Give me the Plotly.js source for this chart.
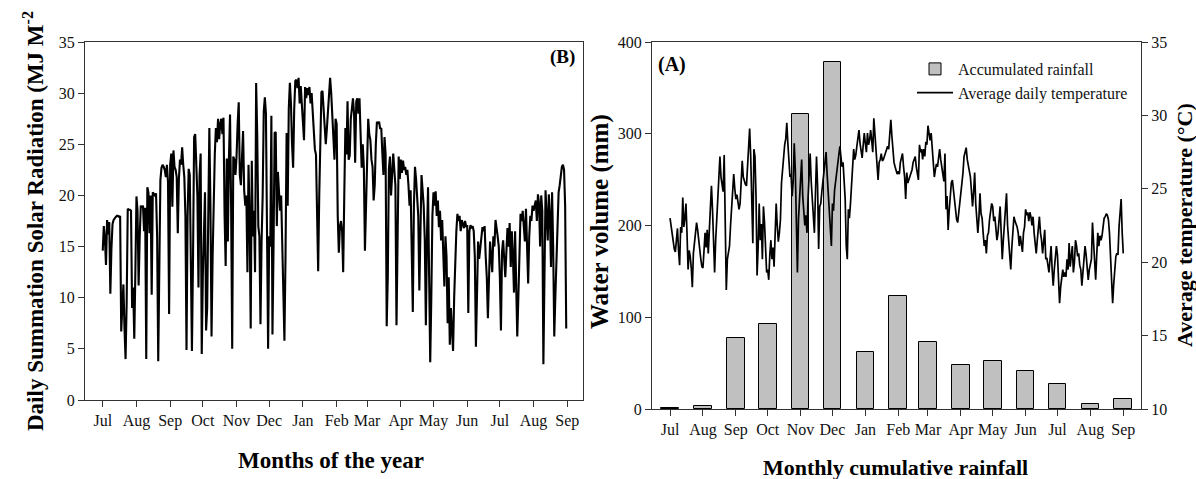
<!DOCTYPE html>
<html><head><meta charset="utf-8">
<script src="https://cdn.plot.ly/plotly-3.0.1.min.js"></script>
<style>html,body{margin:0;padding:0;background:#fff}#chart{width:1196px;height:479px}</style>
</head><body><div id="chart"></div>
<script>
// ---------- Panel B: daily summation solar radiation (MJ m-2), one value per day from 1 Jul ----------
const seriesStart = '2014-07-01';
const solarJul1 = [14.6,17.0,15.8,13.2,17.6,16.2,17.4,10.4,14.8,17.2,17.6,17.8,17.9,18.0,18.0,17.9,18.0,6.7,8.5,11.3,7.0,4.0,9.5,18.7,18.6,18.6,18.5,9.0,11.0,6.0,12.5];
const solarAug1 = [19.9,18.5,11.2,16.0,19.0,18.8,19.0,16.5,18.8,4.0,20.8,20.3,16.3,20.0,10.3,20.3,20.2,20.0,20.2,16.0,3.8,17.0,21.5,22.7,23.0,22.8,22.5,21.8,23.0,21.3,8.4];
const solarSep1 = [23.0,24.1,18.9,24.4,22.8,22.5,21.8,16.3,21.6,23.5,23.0,24.7,23.0,21.8,18.0,4.9,18.0,22.6,22.0,15.0,4.8,14.0,25.7,26.0,22.0,20.0,11.0,22.0,24.1,4.5];
const solarOct1 = [12.0,16.0,20.3,6.8,9.0,18.0,26.6,19.0,6.2,14.0,20.0,24.0,26.6,25.2,27.5,25.5,27.0,27.5,26.0,27.6,18.0,13.1,23.6,15.5,23.7,27.9,19.0,5.0,23.8,23.5,22.0];
const solarNov1 = [23.8,27.0,29.1,22.0,21.0,23.7,26.3,20.5,19.0,20.0,12.5,23.0,18.0,7.0,23.4,16.0,18.5,12.5,31.0,26.0,17.0,16.0,7.4,15.5,20.0,28.2,29.6,28.0,12.0,5.0];
const solarDec1 = [16.0,15.0,27.8,6.4,15.0,26.1,26.2,17.0,22.3,20.5,18.5,20.0,16.0,12.0,5.8,14.0,26.1,19.0,28.5,31.0,29.0,25.0,22.7,28.5,31.2,31.3,30.5,31.5,29.0,30.7,28.9];
const solarJan2 = [27.0,25.4,30.6,29.5,30.5,29.8,30.6,29.0,30.0,28.0,26.0,24.5,24.0,18.0,12.6,20.0,26.0,30.1,30.2,28.0,27.0,25.0,26.5,28.0,30.5,31.5,30.0,27.7,25.5,23.5,27.5];
const solarFeb2 = [27.0,18.0,14.4,17.0,17.5,16.5,12.5,20.0,26.6,24.0,29.2,23.5,23.9,27.5,29.0,29.5,28.0,23.2,29.2,29.5,28.0,29.5,26.0,22.7,25.0,22.7,14.6,20.0];
const solarMar2 = [24.0,27.5,26.0,25.4,23.5,22.8,19.5,21.0,25.0,27.2,27.0,27.2,26.5,26.6,24.1,22.0,25.7,24.0,7.2,12.0,22.6,23.8,20.0,22.0,24.1,22.5,21.0,7.3,15.0,23.8,21.6];
const solarApr2 = [23.5,22.2,23.4,22.5,22.8,22.0,22.5,21.0,19.0,20.5,15.0,8.6,19.0,22.8,21.6,19.8,18.0,10.7,18.0,22.0,20.5,19.0,15.6,7.3,16.0,20.8,12.0,3.7,10.0,18.0];
const solarMay2 = [20.3,19.0,20.4,18.0,19.5,16.9,18.5,15.6,17.6,14.0,11.1,16.0,14.0,7.5,12.0,5.4,9.0,6.8,4.8,10.0,14.0,16.5,18.2,17.5,18.0,16.5,17.6,17.3,16.8,17.5,17.0];
const solarJun2 = [17.0,8.5,16.5,17.1,16.8,17.0,16.5,14.0,5.2,13.0,15.5,13.8,15.0,16.0,16.9,16.5,17.0,14.0,12.0,8.0,12.0,15.5,14.0,12.5,16.0,15.0,17.6,17.0,16.0,15.0];
const solarJul2 = [12.0,6.8,14.5,15.6,13.0,12.0,14.5,16.8,15.0,17.3,13.0,16.5,14.0,10.5,16.5,12.5,6.2,10.0,15.0,18.2,17.5,18.5,17.0,15.5,18.7,14.0,11.4,16.0,18.0,17.5,19.0];
const solarAug2 = [18.5,19.2,19.5,17.5,20.1,19.2,15.0,20.0,18.5,3.5,12.0,20.5,18.0,15.6,20.1,18.0,13.0,20.3,15.0,6.2,10.1,14.0,19.0,20.3,21.0,22.1,22.8,23.0,22.5,19.0,7.0];

// ---------- Panel A: average daily temperature (°C), one value per day from 1 Jul ----------
const tempJul1 = [23.0,22.4,21.9,21.5,20.9,20.7,21.6,22.3,20.8,19.8,22.4,22.0,24.4,22.4,23.0,24.0,21.9,19.5,20.8,20.4,19.6,18.3,20.6,21.5,22.0,22.7,22.2,21.5,20.6,20.2,19.7];
const tempAug1 = [19.6,20.8,22.0,21.0,22.2,20.6,22.5,24.4,25.2,23.6,21.0,19.3,21.5,22.8,24.0,25.5,27.2,25.8,25.4,24.8,27.3,21.5,18.1,20.2,20.8,21.1,22.5,23.8,24.6,26.0,25.0];
const tempSep1 = [24.3,24.6,24.0,23.6,24.0,25.2,26.9,25.8,25.5,25.3,25.2,26.8,27.6,29.1,27.2,24.0,21.3,27.7,27.2,24.5,19.1,21.0,24.0,21.5,22.6,20.2,23.8,22.7,21.0,19.3];
const tempOct1 = [19.5,18.8,20.5,21.5,20.2,21.0,19.7,22.2,24.0,22.5,21.4,22.0,22.9,25.4,26.2,27.4,28.0,28.4,29.5,28.1,26.5,25.8,26.0,24.5,25.5,28.1,26.3,22.0,19.3,22.9,24.5];
const tempNov1 = [25.4,27.0,24.5,23.5,22.5,23.2,22.0,24.3,26.0,27.4,25.5,24.3,23.0,22.0,24.7,27.2,25.2,20.9,23.8,24.0,24.8,25.5,26.3,27.0,27.5,26.0,24.7,23.0,22.0,21.1];
const tempDec1 = [24.0,23.5,24.9,25.5,26.3,26.8,27.2,27.9,27.2,26.5,26.8,25.5,24.3,21.1,20.2,23.6,23.0,24.0,25.2,26.0,27.7,27.0,27.3,27.9,28.5,29.0,28.1,27.5,27.1,28.0,28.8];
const tempJan2 = [28.1,27.5,28.8,28.0,28.3,29.0,28.3,27.5,29.8,28.6,28.1,26.5,25.6,26.8,27.0,27.4,26.9,27.0,27.2,27.5,27.7,27.9,27.7,28.8,29.7,28.6,27.5,26.8,26.5,26.3,26.0];
const tempFeb2 = [26.2,26.0,26.8,27.1,27.4,26.5,25.8,24.3,26.1,25.4,25.6,25.8,26.0,26.3,26.8,27.0,27.2,26.5,25.9,25.6,28.0,27.5,27.7,27.0,27.7,27.2,28.2,28.0];
const tempMar2 = [29.3,28.8,28.3,28.8,27.8,27.2,25.8,26.3,26.7,26.5,27.0,27.7,27.0,26.5,26.1,25.5,27.4,23.6,24.5,22.2,23.5,24.5,25.4,25.6,24.8,24.3,23.5,22.9,22.7,23.5,24.3];
const tempApr2 = [25.0,25.4,26.1,27.2,27.5,27.8,27.0,26.7,26.2,25.8,24.5,23.8,24.8,26.1,24.0,22.9,22.0,23.0,24.7,23.3,23.0,22.0,21.1,21.5,20.6,21.8,22.0,22.9,23.5,24.0];
const tempMay2 = [23.8,22.8,23.1,22.2,21.5,22.0,23.1,23.8,22.0,20.2,21.5,22.4,23.6,24.7,22.5,21.5,20.0,19.5,21.0,22.0,23.1,22.8,22.6,22.4,22.0,21.1,21.8,21.2,20.7,22.0,22.4];
const tempJun2 = [23.6,23.2,23.4,22.8,23.4,23.1,22.5,23.1,22.0,21.2,20.6,21.5,22.2,23.1,22.0,21.5,20.6,21.6,22.2,20.2,20.3,19.8,19.3,20.2,21.1,19.5,18.4,19.5,20.2,21.1];
const tempJul2 = [20.5,18.5,17.2,18.3,18.8,19.5,19.0,19.3,19.0,20.2,19.5,21.3,19.7,20.5,21.1,19.3,20.0,21.5,21.1,20.4,20.6,19.8,19.5,18.4,19.5,20.6,21.1,20.5,19.7,18.8,19.5];
const tempAug2 = [20.0,20.2,22.7,21.0,20.2,18.8,20.5,22.0,21.1,21.8,21.5,21.8,22.4,23.0,23.1,23.3,23.2,22.9,22.0,20.0,17.9,17.2,18.5,19.9,20.4,20.6,20.5,22.4,23.5,24.3,22.0];
const tempSep2 = [20.6];

// ---------- Panel A: monthly cumulative rainfall (mm) ----------
const rainMonthStarts = ['2014-07-01','2014-08-01','2014-09-01','2014-10-01','2014-11-01','2014-12-01','2015-01-01','2015-02-01','2015-03-01','2015-04-01','2015-05-01','2015-06-01','2015-07-01','2015-08-01','2015-09-01'];
const rainLabels = ['Jul','Aug','Sep','Oct','Nov','Dec','Jan','Feb','Mar','Apr','May','Jun','Jul','Aug','Sep'];
const rainfall = [1.5,2.9,77.4,92.6,322,378,61.8,123,72.7,48,52.3,41.4,27.6,5.8,10.9];

// ---------- build ----------
const solar = [].concat(solarJul1,solarAug1,solarSep1,solarOct1,solarNov1,solarDec1,solarJan2,solarFeb2,solarMar2,solarApr2,solarMay2,solarJun2,solarJul2,solarAug2);
const temp = [].concat(tempJul1,tempAug1,tempSep1,tempOct1,tempNov1,tempDec1,tempJan2,tempFeb2,tempMar2,tempApr2,tempMay2,tempJun2,tempJul2,tempAug2,tempSep2);
function dailyDates(start, n){
  const p = start.split('-').map(Number);
  const t0 = Date.UTC(p[0], p[1]-1, p[2]);
  const out = [];
  for (let i = 0; i < n; i++) out.push(new Date(t0 + i*86400000).toISOString().slice(0,10));
  return out;
}
const solarDates = dailyDates(seriesStart, solar.length);
const tempDates = dailyDates(seriesStart, temp.length);

const W = 1196, H = 479;
const FONT = 'Liberation Serif, "Times New Roman", serif';
const px = x => x / W, py = y => 1 - y / H;
const DAY = 86400000;

const axisCommon = {
  showgrid: false, zeroline: false, showline: true, linecolor: '#333', linewidth: 1.3,
  ticks: 'outside', ticklen: 6, tickwidth: 1.2, tickcolor: '#333',
  tickfont: {family: FONT, size: 16, color: '#111'}
};

function label(text, x, y, size, angle){
  const a = {text: text, x: px(x), y: py(y), xref: 'paper', yref: 'paper', showarrow: false,
             xanchor: 'center', yanchor: 'middle', font: {family: FONT, size: size, color: '#000'}};
  if (angle) a.textangle = angle;
  return a;
}

const traces = [
  {type: 'scatter', mode: 'lines', x: solarDates, y: solar, xaxis: 'x', yaxis: 'y',
   line: {color: '#000', width: 2.1}, showlegend: false, hoverinfo: 'x+y'},
  {type: 'bar', name: 'Accumulated rainfall', x: rainMonthStarts, y: rainfall, xaxis: 'x2', yaxis: 'y2',
   width: 16.6 * DAY, marker: {color: '#c0c0c0', line: {color: '#000', width: 1}},
   customdata: rainLabels, hovertemplate: '%{customdata}: %{y} mm<extra></extra>'},
  {type: 'scatter', mode: 'lines', name: 'Average daily temperature', x: tempDates, y: temp, xaxis: 'x2', yaxis: 'y3',
   line: {color: '#000', width: 1.7}}
];

const layout = {
  width: W, height: H, margin: {l: 0, r: 0, t: 0, b: 0},
  paper_bgcolor: '#fff', plot_bgcolor: 'rgba(0,0,0,0)',
  font: {family: FONT, color: '#111'},
  xaxis: Object.assign({}, axisCommon, {
    domain: [px(85), px(583)], anchor: 'y', type: 'date',
    range: ['2014-06-14 17:00', '2015-09-15 10:00'],
    tick0: '2014-07-01', dtick: 'M1', tickformat: '%b', mirror: true
  }),
  yaxis: Object.assign({}, axisCommon, {
    domain: [py(400), py(42)], anchor: 'x', range: [0, 35], dtick: 5, mirror: true
  }),
  xaxis2: Object.assign({}, axisCommon, {
    domain: [px(652), px(1141)], anchor: 'y2', type: 'date',
    range: ['2014-06-14', '2015-09-17 17:00'],
    tick0: '2014-07-01', dtick: 'M1', tickformat: '%b', mirror: true
  }),
  yaxis2: Object.assign({}, axisCommon, {
    domain: [py(409), py(42)], anchor: 'x2', range: [0, 400], dtick: 100
  }),
  yaxis3: Object.assign({}, axisCommon, {
    overlaying: 'y2', side: 'right', anchor: 'x2', range: [10, 35], dtick: 5
  }),
  bargap: 0,
  showlegend: true,
  legend: {x: px(912), y: py(52), xanchor: 'left', yanchor: 'top', bgcolor: 'rgba(0,0,0,0)',
           font: {family: FONT, size: 16, color: '#111'}, itemwidth: 36, tracegroupgap: 0},
  annotations: [
    label('<b>(B)</b>', 562, 57, 19),
    label('<b>(A)</b>', 672, 64, 20),
    Object.assign(label('<b>Daily Summation Solar Radiation (MJ M<sup>-2</sup></b>', 33, 433, 23, -90), {yanchor: 'bottom'}),
    label('<b>Months of the year</b>', 331, 460, 23),
    label('<b>Water volume (mm)</b>', 600, 222, 25, -90),
    label('<b>Average temperature (°C)</b>', 1184, 225, 22, -90),
    label('<b>Monthly cumulative rainfall</b>', 896, 467, 22)
  ]
};

Plotly.newPlot('chart', traces, layout, {displayModeBar: false});
</script></body></html>
